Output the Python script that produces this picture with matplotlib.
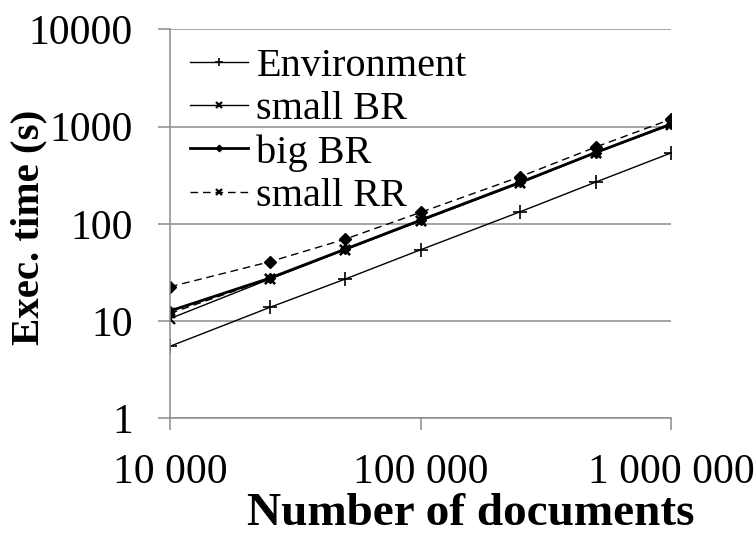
import matplotlib
matplotlib.use("Agg")
import matplotlib.pyplot as plt
from matplotlib.ticker import FixedLocator, NullLocator

plt.rcParams['font.family'] = ['Liberation Serif', 'DejaVu Serif']

# Data
documents = [10000, 25000, 50000, 100000, 250000, 500000, 1000000]
environment = [5.5, 13.8, 27, 54, 133, 268, 535]
small_br = [10.6, 27, 54, 107, 262, 535, 1040]
big_br = [12.7, 27.6, 54.8, 109, 267, 540, 1060]
small_rr = [12.0, 27.3, 54.3, 108, 264, 537, 1050]
big_rr = [22.5, 40.7, 69.5, 131, 305, 615, 1190]

x_ticks = [10000, 100000, 1000000]
x_ticklabels = ["10 000", "100 000", "1 000 000"]
y_ticks = [1, 10, 100, 1000, 10000]
y_ticklabels = ["1", "10", "100", "1000", "10000"]

W, H = 756, 536
fig = plt.figure(figsize=(W / 100, H / 100), dpi=100)
ax = fig.add_axes([170 / W, 1 - 418.3 / H, (671 - 170) / W, (418.3 - 29.3) / H])

grey = '#8c8c8c'
ax.plot(documents, environment, color='black', lw=1.0, marker='+', ms=10, mew=1.2,
        label='Environment')
ax.plot(documents, small_br, color='black', lw=1.0, marker='x', ms=7.5, mew=1.6,
        label='small BR')
ax.plot(documents, big_br, color='black', lw=2.0, marker='D', ms=5.5, mew=1,
        label='big BR')
ax.plot(documents, small_rr, color='black', lw=1.0, ls=(0, (5.5, 3.5)), marker='x',
        ms=7.5, mew=1.6, label='small RR')
ax.plot(documents, big_rr, color='black', lw=1.0, ls=(0, (5.5, 3.5)), marker='D',
        ms=6, mew=1, label='_nolegend_')

ax.set_xscale('log')
ax.set_yscale('log')
ax.set_xlim(10000, 1000000)
ax.set_ylim(1, 10000)

ax.xaxis.set_major_locator(FixedLocator(x_ticks))
ax.xaxis.set_minor_locator(NullLocator())
ax.set_xticks(x_ticks)
ax.set_xticklabels(x_ticklabels)
ax.yaxis.set_major_locator(FixedLocator(y_ticks))
ax.yaxis.set_minor_locator(NullLocator())
ax.set_yticks(y_ticks)
ax.set_yticklabels(y_ticklabels)

ax.grid(axis='y', which='major', color=grey, lw=1.1)
ax.set_axisbelow(True)
for s in ['top', 'right']:
    ax.spines[s].set_visible(False)
for s in ['left', 'bottom']:
    ax.spines[s].set_color(grey)
    ax.spines[s].set_linewidth(1.1)

ax.tick_params(axis='both', which='major', direction='out', length=8.6, width=1.1,
               color=grey, labelsize=30, labelcolor='black')
ax.tick_params(axis='y', pad=18)
ax.tick_params(axis='x', pad=17)

ax.set_xlabel('Number of documents', fontsize=34, fontweight='bold', labelpad=0)
ax.set_ylabel('Exec. time (s)', fontsize=29.5, fontweight='bold', labelpad=0)
ax.xaxis.set_label_coords(471 / W, 1 - 514 / H, transform=fig.transFigure)
ax.yaxis.set_label_coords(29 / W, 1 - 227 / H, transform=fig.transFigure)
ax.xaxis.label.set_va('center')
ax.yaxis.label.set_va('center')

leg = ax.legend(loc='upper left', bbox_to_anchor=(190 / W, 1 - 48 / H),
                bbox_transform=fig.transFigure, frameon=False, fontsize=29,
                borderpad=0, borderaxespad=0, handlelength=1.45,
                handletextpad=0.2, labelspacing=0.145, markerscale=0.6)

fig.savefig('out.png', dpi=100)
